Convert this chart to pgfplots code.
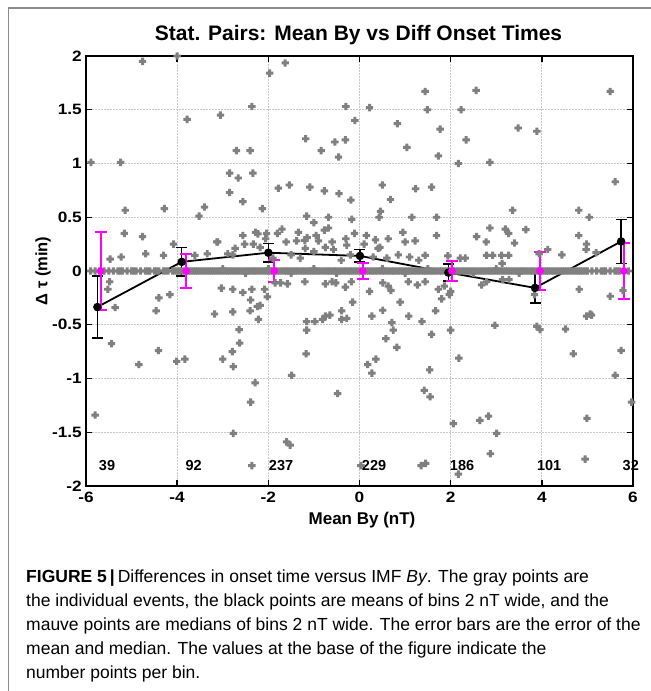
\documentclass[border=0pt]{standalone}
\usepackage{pgfplots}
\pgfplotsset{compat=1.18}
\usepackage{fontspec}
\setmainfont{Liberation Sans}
\newfontface\tickfont[FakeStretch=1.15]{Liberation Sans Bold}
\definecolor{ptgray}{RGB}{128,128,128}
\definecolor{mauve}{RGB}{255,0,255}
\definecolor{gridc}{RGB}{200,200,200}
\definecolor{framec}{RGB}{140,140,140}
\pgfdeclareplotmark{fatplus}{%
  \pgfpathrectangle{\pgfpoint{-\pgfplotmarksize}{-0.4\pgfplotmarksize}}{\pgfpoint{2\pgfplotmarksize}{0.8\pgfplotmarksize}}%
  \pgfpathrectangle{\pgfpoint{-0.4\pgfplotmarksize}{-\pgfplotmarksize}}{\pgfpoint{0.8\pgfplotmarksize}{2\pgfplotmarksize}}%
  \pgfusepathqfill}
\begin{document}
\begin{tikzpicture}[x=1bp,y=1bp]
\begin{axis}[
  at={(0,0)}, anchor=south west,
  width=547bp, height=430bp, scale only axis,
  xmin=-6, xmax=6, ymin=-2, ymax=2,
  xtick={-6,-4,-2,0,2,4,6}, xticklabels={-6,-4,-2,0,2,4,6},
  ytick={-2,-1.5,-1,-0.5,0,0.5,1,1.5,2}, yticklabels={-2,-1.5,-1,-0.5,0,0.5,1,1.5,2},
  xtick pos=both, ytick pos=both, tick align=inside,
  major tick length=6bp,
  tick style={black, line width=1.4bp},
  axis line style={black, line width=1.8bp},
  grid=major, grid style={gridc, line width=0.8bp, dash pattern=on 2bp off 1bp},
  xticklabel style={font=\fontsize{15bp}{18bp}\tickfont, anchor=base, yshift=-17bp},
  yticklabel style={font=\fontsize{15bp}{18bp}\tickfont, anchor=east, xshift=-4bp, inner sep=0pt},
  clip=false,
]
% individual events
\addplot[only marks, mark=fatplus, color=ptgray, mark size=3.7bp] coordinates {
(-5.89,1.01) (-5.24,1.01) (-5.14,0.565) (-4.76,1.95) (-4.28,0.58) (-4.0,2.0) (-3.78,1.41) (-3.52,0.51) (-3.40,0.595) (-3.05,1.45)
(-2.85,0.91) (-2.85,0.73) (-2.70,1.12) (-2.66,0.865) (-2.56,0.645) (-2.40,1.12) (-2.36,1.53) (-2.34,0.91) (-2.13,0.58) (-1.97,1.84)
(-1.78,0.77) (-1.63,1.935) (-1.54,0.80) (-1.18,1.23) (-1.09,0.78) (-1.16,0.51) (-1.0,0.45) (-0.84,1.12) (-0.77,0.745) (-0.68,0.5)
(-0.54,1.2) (-0.46,1.06) (-0.45,0.72) (-0.30,1.53) (-0.31,1.22) (-0.19,0.66) (-0.17,0.48) (-0.10,1.40) (0.22,1.52) (0.50,0.80)
(0.46,0.555) (0.43,0.50) (0.68,0.665) (0.83,1.37) (1.04,1.15) (1.15,0.50) (1.23,0.765) (1.44,1.67) (1.49,1.50) (1.58,0.78)
(1.69,0.50) (1.77,1.32) (1.73,1.07) (2.17,1.0) (2.23,1.50) (2.34,1.22) (2.56,1.68) (2.86,1.01) (3.36,0.565) (3.48,1.33)
(3.89,1.30) (4.81,0.565) (5.04,0.50) (5.50,1.67) (5.61,0.83)
(-5.16,0.35) (-4.76,0.32) (-4.08,0.25) (-3.11,0.27) (-2.56,0.33) (-2.33,0.25) (-2.23,0.345) (-2.04,0.35) (-1.80,0.35) (-1.70,0.39)
(-1.34,0.36) (-0.77,0.38) (-0.68,0.40) (-0.11,0.35) (-0.30,0.30) (-0.28,0.24) (0.63,0.30) (0.45,0.22) (1.69,0.33) (2.57,0.32)
(2.78,0.27) (2.86,0.40) (3.27,0.35) (3.65,0.385) (4.81,0.33) (4.98,0.25)
(-3.61,0.146) (-3.34,0.16) (-3.13,0.27) (-2.89,0.16) (-2.73,0.21) (-2.28,0.36) (-2.18,0.22) (-1.20,0.285) (-1.38,0.28) (-0.75,0.22)
(-0.57,0.20) (-1.19,0.21) (0.41,0.21) (1.44,0.146) (2.79,0.146) (2.92,0.146) (3.12,0.146) (3.27,0.146) (2.32,0.12) (2.21,0.12)
(3.13,0.07) (4.13,0.2) (4.97,0.2) (5.19,0.17) (-5.47,0.11) (-5.23,0.13) (-4.69,0.16) (-4.30,0.145) (-2.78,0.15)
(-2.52,0.25) (-2.06,0.3) (-1.61,0.27) (-1.15,0.31) (-0.6,0.27) (0.35,0.29) (0.85,0.15) (1.22,0.28) (1.94,0.14) (3.2,0.39)
(3.4,0.26) (3.94,0.16) (4.44,0.15)
(-1.5,0.15) (-1.3,0.12) (-1.0,0.18) (-0.9,0.28) (-0.4,0.1) (0.1,0.25) (0.3,0.13) (0.6,0.12) (1.0,0.27) (1.3,0.1)
(-0.95,0.33) (0.15,0.33) (0.95,0.36) (1.1,0.13) (-1.9,0.12) (-0.2,0.15)
(-5.80,-1.34) (-5.52,-0.17) (-5.48,-0.10) (-5.36,-0.34) (-5.44,-0.675) (-4.84,-0.87) (-4.46,-0.37) (-4.40,-0.25) (-4.41,-0.74) (-4.16,-0.22)
(-4.01,-0.84) (-3.83,-0.82) (-3.18,-0.40) (-3.03,-0.16) (-3.0,-0.82) (-2.78,-0.17) (-2.78,-0.38) (-2.79,-0.75) (-2.77,-0.89) (-2.63,-0.67)
(-2.56,-0.20) (-2.64,-0.545) (-2.40,-0.37) (-2.39,-0.27) (-2.39,-1.22) (-2.29,-1.04) (-2.36,-0.17) (-2.22,-0.45) (-2.24,-0.33) (-2.77,-1.51)
(-2.36,-1.81) (-2.02,-0.24) (-1.85,-0.11) (-1.73,-0.11) (-1.49,-0.97) (-1.60,-1.59) (-1.52,-1.62) (-1.16,-0.47) (-1.16,-0.55) (-1.17,-0.77)
(-0.98,-0.47) (-0.81,-0.45) (-0.75,-0.42) (-0.48,-1.14) (-0.6,-0.1) (-0.65,-0.41) (-0.39,-0.37) (-0.39,-0.45) (-0.28,-0.44) (-0.15,-0.29)
(0.22,-0.19) (0.27,-0.42) (0.18,-0.87) (0.36,-0.82) (0.27,-0.95) (0.51,-0.365) (0.71,-0.48) (0.74,-0.55) (0.58,-0.63) (0.82,-0.71)
(0.89,-0.29) (0.63,-0.14) (1.08,-0.42) (1.37,-0.47) (1.58,-0.59) (1.54,-0.92) (1.42,-1.11) (1.55,-1.17) (1.67,-0.37) (1.80,-0.26)
(2.0,-0.55) (2.18,-0.81) (2.06,-1.42) (2.0,-0.19) (2.64,-1.39) (2.83,-1.35) (3.01,-1.51) (2.87,-1.70) (2.97,-0.505) (3.89,-0.515)
(3.96,-0.545) (3.84,-0.22) (4.52,-0.54) (4.69,-0.77) (4.82,-0.17) (4.98,-0.42) (5.09,-0.41) (4.99,-1.37) (4.95,-1.75) (5.50,-0.235)
(5.74,-0.74) (5.61,-0.97) (5.97,-1.22) (5.78,-0.18) (0.03,-1.81) (1.35,-1.81) (1.45,-1.79) (2.17,-1.89)
(-2.18,-0.32) (-2.08,-0.17) (-1.58,-0.12) (-1.20,-0.10) (-0.75,-0.12) (-0.52,-0.11) (-0.31,-0.15) (-0.18,-0.10) (0.51,-0.11) (0.69,-0.18)
(1.07,-0.10) (1.27,-0.13) (1.44,-0.10) (1.73,-0.17) (1.86,-0.14) (1.97,-0.22) (2.68,-0.13) (2.79,-0.1) (3.14,-0.08) (3.28,-0.08) (5.06,-0.40)
(-5.9,0) (-5.8,0) (-5.7,0) (-5.6,0) (-5.5,0) (-5.4,0) (-5.3,0) (-5.2,0) (-5.1,0) (-5.0,0)
(-4.9,0) (-4.8,0) (-4.7,0) (-4.6,0) (-4.5,0) (-4.4,0) (-4.3,0) (-4.2,0) (-4.1,0) (-4.0,0)
(-3.9,0) (-3.8,0) (-3.7,0) (-3.6,0) (-3.5,0) (-3.4,0) (-3.3,0) (-3.2,0) (-3.1,0) (-3.0,0)
(-2.9,0) (-2.8,0) (-2.7,0) (-2.6,0) (-2.5,0) (-2.4,0) (-2.3,0) (-2.2,0) (-2.1,0) (-2.0,0)
(-1.9,0) (-1.8,0) (-1.7,0) (-1.6,0) (-1.5,0) (-1.4,0) (-1.3,0) (-1.2,0) (-1.1,0) (-1.0,0)
(-0.9,0) (-0.8,0) (-0.7,0) (-0.6,0) (-0.5,0) (-0.4,0) (-0.3,0) (-0.2,0) (-0.1,0) (0.0,0)
(0.1,0) (0.2,0) (0.3,0) (0.4,0) (0.5,0) (0.6,0) (0.7,0) (0.8,0) (0.9,0) (1.0,0)
(1.1,0) (1.2,0) (1.3,0) (1.4,0) (1.5,0) (1.6,0) (1.7,0) (1.8,0) (1.9,0) (2.0,0)
(2.1,0) (2.2,0) (2.3,0) (2.4,0) (2.5,0) (2.6,0) (2.7,0) (2.8,0) (2.9,0) (3.0,0)
(3.1,0) (3.2,0) (3.3,0) (3.4,0) (3.5,0) (3.6,0) (3.7,0) (3.8,0) (3.9,0) (4.0,0)
(4.1,0) (4.2,0) (4.3,0) (4.4,0) (4.5,0) (4.6,0) (4.7,0) (4.8,0) (4.9,0) (5.0,0)
(5.1,0) (5.2,0) (5.3,0) (5.4,0) (5.5,0) (5.6,0) (5.7,0) (5.8,0) (5.9,0)
(-5.25,0) (-4.95,0) (-4.65,0) (-4.45,0) (-4.25,0) (-4.05,0)
(-3.95,0) (-3.85,0) (-3.75,0) (-3.65,0) (-3.55,0) (-3.45,0) (-3.35,0) (-3.25,0) (-3.15,0) (-3.05,0)
(-2.95,0) (-2.85,0) (-2.75,0) (-2.65,0) (-2.55,0) (-2.45,0) (-2.35,0) (-2.25,0) (-2.15,0) (-2.05,0)
(-1.95,0) (-1.85,0) (-1.75,0) (-1.65,0) (-1.55,0) (-1.45,0) (-1.35,0) (-1.25,0) (-1.15,0) (-1.05,0)
(-0.95,0) (-0.85,0) (-0.75,0) (-0.65,0) (-0.55,0) (-0.45,0) (-0.35,0) (-0.25,0) (-0.15,0) (-0.05,0)
(0.05,0) (0.15,0) (0.25,0) (0.35,0) (0.45,0) (0.55,0) (0.65,0) (0.75,0) (0.85,0) (0.95,0)
(1.05,0) (1.15,0) (1.25,0) (1.35,0) (1.45,0) (1.55,0) (1.65,0) (1.75,0) (1.85,0) (1.95,0)
(2.05,0) (2.15,0) (2.25,0) (2.35,0) (2.45,0) (2.55,0) (2.65,0) (2.75,0) (2.85,0) (2.95,0)
(3.05,0) (3.15,0) (3.25,0) (3.35,0) (3.45,0) (3.55,0) (3.65,0) (3.75,0) (3.85,0) (3.95,0)
(4.05,0) (4.15,0) (4.25,0) (4.35,0) (4.45,0) (4.55,0) (4.65,0) (4.75,0) (4.85,0) (4.95,0)
(5.35,0) (5.65,0)
(-3.0,0.02) (-2.5,-0.02) (-2.0,0.02) (-1.5,-0.02) (-1.0,0.02) (-0.5,-0.02) (0.5,0.02) (1.0,-0.02) (1.5,0.02) (2.5,-0.02) (3.0,0.02) (3.5,-0.02)
};
% bin means
\addplot[black, line width=1.8bp, mark=*, mark size=3.3bp, mark options={fill=black},
  error bars/.cd, y dir=both, y explicit,
  error bar style={line width=1.5bp, black},
  error mark options={rotate=90, line width=1.5bp, mark size=5.5bp, black}]
coordinates {
(-5.75,-0.335) +- (0,0.29)
(-3.90,0.085) +- (0,0.132)
(-2.00,0.17) +- (0,0.085)
(0.01,0.14) +- (0,0.058)
(1.95,-0.015) +- (0,0.08)
(3.85,-0.157) +- (0,0.143)
(5.74,0.275) +- (0,0.205)
};
% bin medians
\addplot[only marks, mauve, mark=*, mark size=3.6bp, mark options={fill=mauve},
  error bars/.cd, y dir=both, y explicit,
  error bar style={line width=2bp, mauve},
  error mark options={rotate=90, line width=2bp, mark size=6bp, mauve}]
coordinates {
(-5.68,0) +- (0,0.36)
(-3.80,0) +- (0,0.162)
(-1.87,0) +- (0,0.10)
(0.07,0) +- (0,0.07)
(2.03,0) +- (0,0.095)
(3.96,0) +- (0,0.18)
(5.80,0) +- (0,0.26)
};
\begin{scope}[every node/.style={anchor=base west, inner sep=0pt, font=\fontsize{14.5bp}{17bp}\bfseries}]
\node at (axis cs:-5.72,-1.854) {39};
\node at (axis cs:-3.82,-1.854) {92};
\node at (axis cs:-1.99,-1.854) {237};
\node at (axis cs:0.05,-1.854) {229};
\node at (axis cs:1.98,-1.854) {186};
\node at (axis cs:3.89,-1.854) {101};
\node at (axis cs:5.77,-1.854) {32};
\end{scope}
\end{axis}
\node[anchor=base, inner sep=0pt, font=\fontsize{21bp}{25bp}\bfseries] at (272.5,445) {Stat. Pairs: Mean By vs Diff Onset Times};
\node[anchor=base, inner sep=0pt, font=\fontsize{17bp}{20bp}\bfseries] at (276,-39) {Mean By (nT)};
\node[rotate=90, inner sep=0pt, font=\fontsize{16.5bp}{20bp}\bfseries] at (-43,215) {Δ τ (min)};
\begin{scope}[every node/.style={anchor=base west, inner sep=0pt, font=\fontsize{17.5bp}{21bp}\selectfont}]
\node at (-60,-96) {\textbf{FIGURE 5}\hspace{3bp}\textbf{|}\hspace{3bp}Differences in onset time versus IMF \textit{By}. The gray points are};
\node at (-60,-120) {the individual events, the black points are means of bins 2 nT wide, and the};
\node at (-60,-144) {mauve points are medians of bins 2 nT wide. The error bars are the error of the};
\node at (-60,-168) {mean and median. The values at the base of the figure indicate the};
\node at (-60,-192) {number points per bin.};
\end{scope}
\draw[framec, line width=1.3bp] (-77.5,-210) -- (-77.5,478) -- (570,478);
\pgfresetboundingbox
\useasboundingbox (-86,-205) rectangle (565,486);
\end{tikzpicture}
\end{document}
